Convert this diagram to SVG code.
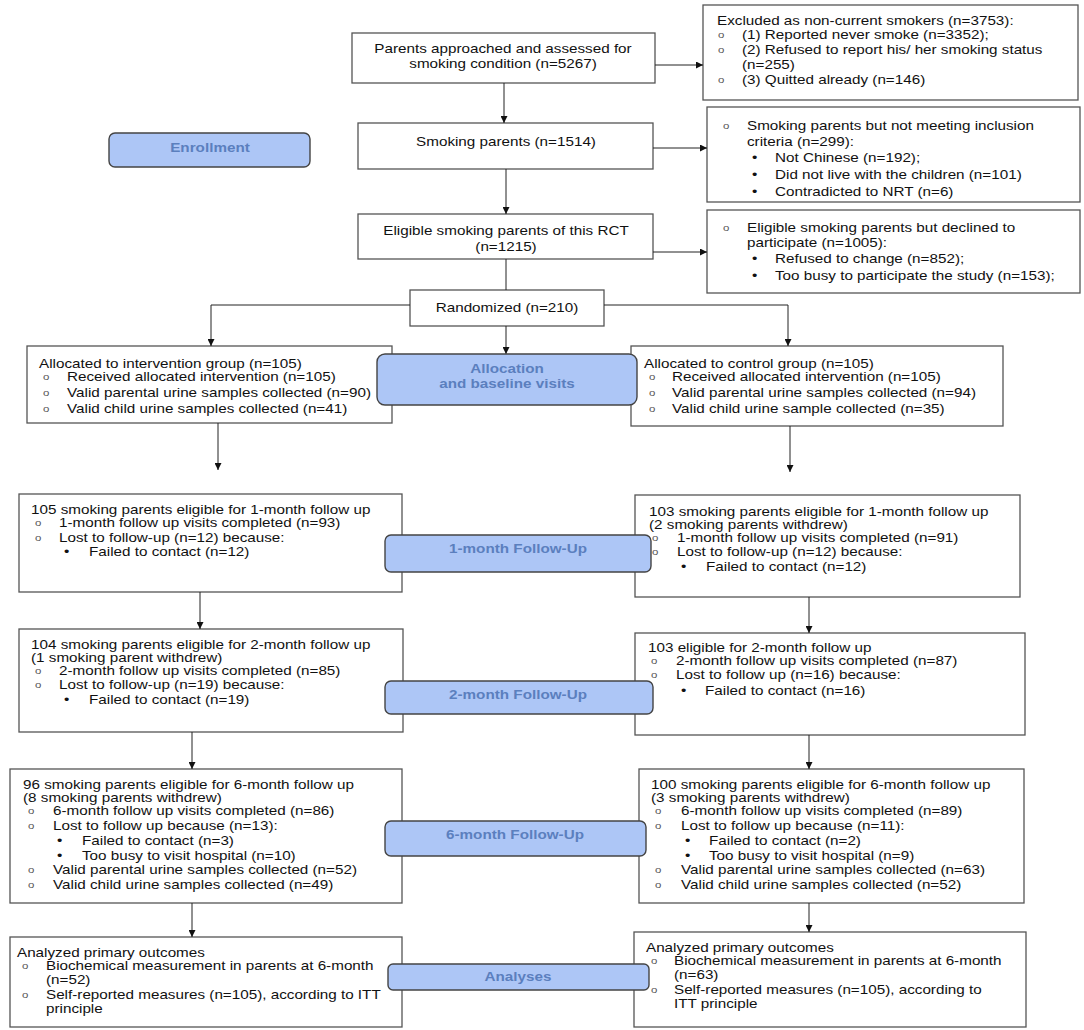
<svg xmlns="http://www.w3.org/2000/svg" width="1084" height="1030" viewBox="0 0 1084 1030">
<defs>
<style>
.box{fill:#fff;stroke:#555;stroke-width:1.3}
.lbl{fill:#adc6f6;stroke:#444;stroke-width:1.4}
.t{font-family:"Liberation Sans",Arial,sans-serif;font-size:12px;fill:#111}
.c{text-anchor:middle}
.o{font-family:"Liberation Sans",Arial,sans-serif;font-size:9px;fill:#555}
.d{font-family:"Liberation Sans",Arial,sans-serif;font-size:12px;fill:#111}
.lt{font-family:"Liberation Sans",Arial,sans-serif;font-size:12.5px;font-weight:bold;fill:#5b7fbe;text-anchor:middle}
.ln{fill:none;stroke:#222;stroke-width:1}
</style>
<marker id="ah" viewBox="0 0 10 10" refX="10" refY="5" markerWidth="7" markerHeight="7" markerUnits="userSpaceOnUse" orient="auto">
<path d="M0,0 L10,5 L0,10 z" fill="#111"/>
</marker>
</defs>
<rect width="1084" height="1030" fill="#fff"/>

<g id="n-approached">
<rect class="box" x="352" y="33" width="303" height="50"/>
<text class="t c" transform="translate(503 52.5) scale(1.27 1)">Parents approached and assessed for</text>
<text class="t c" transform="translate(503 67.5) scale(1.27 1)">smoking condition (n=5267)</text>
</g>

<g id="n-excluded">
<rect class="box" x="703" y="5" width="375" height="95"/>
<text class="t" transform="translate(717 24.5) scale(1.27 1)">Excluded as non-current smokers (n=3753):</text>
<text class="o" transform="translate(718 38) scale(1.27 1)">o</text>
<text class="t" transform="translate(742 39) scale(1.27 1)">(1) Reported never smoke (n=3352);</text>
<text class="o" transform="translate(718 53) scale(1.27 1)">o</text>
<text class="t" transform="translate(742 54) scale(1.27 1)">(2) Refused to report his/ her smoking status</text>
<text class="t" transform="translate(742 69) scale(1.27 1)">(n=255)</text>
<text class="o" transform="translate(718 83) scale(1.27 1)">o</text>
<text class="t" transform="translate(742 84) scale(1.27 1)">(3) Quitted already (n=146)</text>
</g>

<g id="n-smoking">
<rect class="box" x="358" y="123" width="295" height="46"/>
<text class="t c" transform="translate(506 145.5) scale(1.27 1)">Smoking parents (n=1514)</text>
</g>

<g id="n-notmeeting">
<rect class="box" x="707" y="107" width="373" height="95"/>
<text class="o" transform="translate(723 128.5) scale(1.27 1)">o</text>
<text class="t" transform="translate(747 129.5) scale(1.27 1)">Smoking parents but not meeting inclusion</text>
<text class="t" transform="translate(747 145.5) scale(1.27 1)">criteria (n=299):</text>
<text class="d" transform="translate(752 161.5) scale(1.27 1)">•</text>
<text class="t" transform="translate(775 161.5) scale(1.27 1)">Not Chinese (n=192);</text>
<text class="d" transform="translate(752 178.5) scale(1.27 1)">•</text>
<text class="t" transform="translate(775 178.5) scale(1.27 1)">Did not live with the children (n=101)</text>
<text class="d" transform="translate(752 195.5) scale(1.27 1)">•</text>
<text class="t" transform="translate(775 195.5) scale(1.27 1)">Contradicted to NRT (n=6)</text>
</g>

<g id="n-eligible">
<rect class="box" x="358" y="214" width="295" height="45"/>
<text class="t c" transform="translate(506 234.5) scale(1.27 1)">Eligible smoking parents of this RCT</text>
<text class="t c" transform="translate(506 250.5) scale(1.27 1)">(n=1215)</text>
</g>

<g id="n-declined">
<rect class="box" x="707" y="210" width="373" height="83"/>
<text class="o" transform="translate(723 230.5) scale(1.27 1)">o</text>
<text class="t" transform="translate(747 231.5) scale(1.27 1)">Eligible smoking parents but declined to</text>
<text class="t" transform="translate(747 246.5) scale(1.27 1)">participate (n=1005):</text>
<text class="d" transform="translate(752 262.5) scale(1.27 1)">•</text>
<text class="t" transform="translate(775 262.5) scale(1.27 1)">Refused to change (n=852);</text>
<text class="d" transform="translate(752 279.5) scale(1.27 1)">•</text>
<text class="t" transform="translate(775 279.5) scale(1.27 1)">Too busy to participate the study (n=153);</text>
</g>

<g id="n-randomized">
<rect class="box" x="410" y="290" width="194" height="36"/>
<text class="t c" transform="translate(507 311.5) scale(1.27 1)">Randomized (n=210)</text>
</g>

<g id="n-alloc-int">
<rect class="box" x="27" y="346" width="365" height="77"/>
<text class="t" transform="translate(39 367.5) scale(1.27 1)">Allocated to intervention group (n=105)</text>
<text class="o" transform="translate(43 379.5) scale(1.27 1)">o</text>
<text class="t" transform="translate(67 380.5) scale(1.27 1)">Received allocated intervention (n=105)</text>
<text class="o" transform="translate(43 395.5) scale(1.27 1)">o</text>
<text class="t" transform="translate(67 396.5) scale(1.27 1)">Valid parental urine samples collected (n=90)</text>
<text class="o" transform="translate(43 411.5) scale(1.27 1)">o</text>
<text class="t" transform="translate(67 412.5) scale(1.27 1)">Valid child urine samples collected (n=41)</text>
</g>

<g id="n-alloc-ctl">
<rect class="box" x="631" y="346" width="372" height="80"/>
<text class="t" transform="translate(644 367.5) scale(1.27 1)">Allocated to control group (n=105)</text>
<text class="o" transform="translate(649 379.5) scale(1.27 1)">o</text>
<text class="t" transform="translate(672 380.5) scale(1.27 1)">Received allocated intervention (n=105)</text>
<text class="o" transform="translate(649 395.5) scale(1.27 1)">o</text>
<text class="t" transform="translate(672 396.5) scale(1.27 1)">Valid parental urine samples collected (n=94)</text>
<text class="o" transform="translate(649 411.5) scale(1.27 1)">o</text>
<text class="t" transform="translate(672 412.5) scale(1.27 1)">Valid child urine sample collected (n=35)</text>
</g>

<g id="n-int-1m">
<rect class="box" x="19" y="494" width="383" height="98"/>
<text class="t" transform="translate(31 513.5) scale(1.27 1)">105 smoking parents eligible for 1-month follow up</text>
<text class="o" transform="translate(35 525.5) scale(1.27 1)">o</text>
<text class="t" transform="translate(59 526.5) scale(1.27 1)">1-month follow up visits completed (n=93)</text>
<text class="o" transform="translate(35 540.5) scale(1.27 1)">o</text>
<text class="t" transform="translate(59 541.5) scale(1.27 1)">Lost to follow-up (n=12) because:</text>
<text class="d" transform="translate(64 555.5) scale(1.27 1)">•</text>
<text class="t" transform="translate(89 555.5) scale(1.27 1)">Failed to contact (n=12)</text>
</g>

<g id="n-ctl-1m">
<rect class="box" x="635" y="495" width="385" height="102"/>
<text class="t" transform="translate(649 515.5) scale(1.27 1)">103 smoking parents eligible for 1-month follow up</text>
<text class="t" transform="translate(649 528.5) scale(1.27 1)">(2 smoking parents withdrew)</text>
<text class="o" transform="translate(652 540.5) scale(1.27 1)">o</text>
<text class="t" transform="translate(677 541.5) scale(1.27 1)">1-month follow up visits completed (n=91)</text>
<text class="o" transform="translate(652 554.5) scale(1.27 1)">o</text>
<text class="t" transform="translate(677 555.5) scale(1.27 1)">Lost to follow-up (n=12) because:</text>
<text class="d" transform="translate(681 570.5) scale(1.27 1)">•</text>
<text class="t" transform="translate(706 570.5) scale(1.27 1)">Failed to contact (n=12)</text>
</g>

<g id="n-int-2m">
<rect class="box" x="19" y="629" width="384" height="103"/>
<text class="t" transform="translate(31 648.5) scale(1.27 1)">104 smoking parents eligible for 2-month follow up</text>
<text class="t" transform="translate(31 661.5) scale(1.27 1)">(1 smoking parent withdrew)</text>
<text class="o" transform="translate(35 673.5) scale(1.27 1)">o</text>
<text class="t" transform="translate(59 674.5) scale(1.27 1)">2-month follow up visits completed (n=85)</text>
<text class="o" transform="translate(35 687.5) scale(1.27 1)">o</text>
<text class="t" transform="translate(59 688.5) scale(1.27 1)">Lost to follow-up (n=19) because:</text>
<text class="d" transform="translate(64 703.5) scale(1.27 1)">•</text>
<text class="t" transform="translate(89 703.5) scale(1.27 1)">Failed to contact (n=19)</text>
</g>

<g id="n-ctl-2m">
<rect class="box" x="635" y="633" width="390" height="102"/>
<text class="t" transform="translate(648 651.5) scale(1.27 1)">103 eligible for 2-month follow up</text>
<text class="o" transform="translate(651 663.5) scale(1.27 1)">o</text>
<text class="t" transform="translate(676 664.5) scale(1.27 1)">2-month follow up visits completed (n=87)</text>
<text class="o" transform="translate(651 677.5) scale(1.27 1)">o</text>
<text class="t" transform="translate(676 678.5) scale(1.27 1)">Lost to follow up (n=16) because:</text>
<text class="d" transform="translate(681 694.5) scale(1.27 1)">•</text>
<text class="t" transform="translate(705 694.5) scale(1.27 1)">Failed to contact (n=16)</text>
</g>

<g id="n-int-6m">
<rect class="box" x="10" y="769" width="392" height="134"/>
<text class="t" transform="translate(23 789) scale(1.27 1)">96 smoking parents eligible for 6-month follow up</text>
<text class="t" transform="translate(23 801.5) scale(1.27 1)">(8 smoking parents withdrew)</text>
<text class="o" transform="translate(28 813.5) scale(1.27 1)">o</text>
<text class="t" transform="translate(53 814.5) scale(1.27 1)">6-month follow up visits completed (n=86)</text>
<text class="o" transform="translate(28 828.5) scale(1.27 1)">o</text>
<text class="t" transform="translate(53 829.5) scale(1.27 1)">Lost to follow up because (n=13):</text>
<text class="d" transform="translate(57 844.5) scale(1.27 1)">•</text>
<text class="t" transform="translate(82 844.5) scale(1.27 1)">Failed to contact (n=3)</text>
<text class="d" transform="translate(57 859.5) scale(1.27 1)">•</text>
<text class="t" transform="translate(82 859.5) scale(1.27 1)">Too busy to visit hospital (n=10)</text>
<text class="o" transform="translate(28 872.5) scale(1.27 1)">o</text>
<text class="t" transform="translate(53 873.5) scale(1.27 1)">Valid parental urine samples collected (n=52)</text>
<text class="o" transform="translate(28 887.5) scale(1.27 1)">o</text>
<text class="t" transform="translate(53 888.5) scale(1.27 1)">Valid child urine samples collected (n=49)</text>
</g>

<g id="n-ctl-6m">
<rect class="box" x="639" y="769" width="385" height="134"/>
<text class="t" transform="translate(651 789) scale(1.27 1)">100 smoking parents eligible for 6-month follow up</text>
<text class="t" transform="translate(651 801.5) scale(1.27 1)">(3 smoking parents withdrew)</text>
<text class="o" transform="translate(655 813.5) scale(1.27 1)">o</text>
<text class="t" transform="translate(681 814.5) scale(1.27 1)">6-month follow up visits completed (n=89)</text>
<text class="o" transform="translate(655 828.5) scale(1.27 1)">o</text>
<text class="t" transform="translate(681 829.5) scale(1.27 1)">Lost to follow up because (n=11):</text>
<text class="d" transform="translate(685 844.5) scale(1.27 1)">•</text>
<text class="t" transform="translate(709 844.5) scale(1.27 1)">Failed to contact (n=2)</text>
<text class="d" transform="translate(685 859.5) scale(1.27 1)">•</text>
<text class="t" transform="translate(709 859.5) scale(1.27 1)">Too busy to visit hospital (n=9)</text>
<text class="o" transform="translate(655 872.5) scale(1.27 1)">o</text>
<text class="t" transform="translate(681 873.5) scale(1.27 1)">Valid parental urine samples collected (n=63)</text>
<text class="o" transform="translate(655 887.5) scale(1.27 1)">o</text>
<text class="t" transform="translate(681 888.5) scale(1.27 1)">Valid child urine samples collected (n=52)</text>
</g>

<g id="n-int-an">
<rect class="box" x="10" y="937" width="392" height="90"/>
<text class="t" transform="translate(17 956.5) scale(1.27 1)">Analyzed primary outcomes</text>
<text class="o" transform="translate(22 968.5) scale(1.27 1)">o</text>
<text class="t" transform="translate(46 969.5) scale(1.27 1)">Biochemical measurement in parents at 6-month</text>
<text class="t" transform="translate(46 983.5) scale(1.27 1)">(n=52)</text>
<text class="o" transform="translate(22 997.5) scale(1.27 1)">o</text>
<text class="t" transform="translate(46 998.5) scale(1.27 1)">Self-reported measures (n=105), according to ITT</text>
<text class="t" transform="translate(46 1012.5) scale(1.27 1)">principle</text>
</g>

<g id="n-ctl-an">
<rect class="box" x="634" y="932" width="392" height="95"/>
<text class="t" transform="translate(646 951.5) scale(1.27 1)">Analyzed primary outcomes</text>
<text class="o" transform="translate(651 963.5) scale(1.27 1)">o</text>
<text class="t" transform="translate(674 964.5) scale(1.27 1)">Biochemical measurement in parents at 6-month</text>
<text class="t" transform="translate(674 978.5) scale(1.27 1)">(n=63)</text>
<text class="o" transform="translate(651 992.5) scale(1.27 1)">o</text>
<text class="t" transform="translate(674 993.5) scale(1.27 1)">Self-reported measures (n=105), according to</text>
<text class="t" transform="translate(674 1007.5) scale(1.27 1)">ITT principle</text>
</g>

<g id="connectors">
<path class="ln" d="M655,65 H703" marker-end="url(#ah)"/>
<path class="ln" d="M504,83 V123" marker-end="url(#ah)"/>
<path class="ln" d="M653,148 H707" marker-end="url(#ah)"/>
<path class="ln" d="M506,169 V214" marker-end="url(#ah)"/>
<path class="ln" d="M653,252 H707" marker-end="url(#ah)"/>
<path class="ln" d="M506,259 V290"/>
<path class="ln" d="M410,305 H211 V346" marker-end="url(#ah)"/>
<path class="ln" d="M604,305 H788 V346" marker-end="url(#ah)"/>
<path class="ln" d="M506,326 V354" marker-end="url(#ah)"/>
<path class="ln" d="M218,423 V470" marker-end="url(#ah)"/>
<path class="ln" d="M790,426 V472" marker-end="url(#ah)"/>
<path class="ln" d="M200,592 V629" marker-end="url(#ah)"/>
<path class="ln" d="M809,597 V633" marker-end="url(#ah)"/>
<path class="ln" d="M192,732 V769" marker-end="url(#ah)"/>
<path class="ln" d="M809,735 V769" marker-end="url(#ah)"/>
<path class="ln" d="M192,903 V937" marker-end="url(#ah)"/>
<path class="ln" d="M809,903 V932" marker-end="url(#ah)"/>
</g>

<g id="lbl-enrollment">
<rect class="lbl" x="109" y="133" width="201" height="34" rx="6"/>
<text class="lt" transform="translate(210 151.5) scale(1.22 1)">Enrollment</text>
</g>

<g id="lbl-allocation">
<rect class="lbl" x="377" y="354" width="260" height="51" rx="8"/>
<text class="lt" transform="translate(507 372.5) scale(1.22 1)">Allocation</text>
<text class="lt" transform="translate(507 387.5) scale(1.22 1)">and baseline visits</text>
</g>

<g id="lbl-1m">
<rect class="lbl" x="385" y="535" width="266" height="37" rx="6"/>
<text class="lt" transform="translate(518 552.5) scale(1.22 1)">1-month Follow-Up</text>
</g>

<g id="lbl-2m">
<rect class="lbl" x="385" y="681" width="268" height="33" rx="6"/>
<text class="lt" transform="translate(518 698.5) scale(1.22 1)">2-month Follow-Up</text>
</g>

<g id="lbl-6m">
<rect class="lbl" x="385" y="821" width="261" height="35" rx="6"/>
<text class="lt" transform="translate(515 838.5) scale(1.22 1)">6-month Follow-Up</text>
</g>

<g id="lbl-analyses">
<rect class="lbl" x="388" y="964" width="261" height="26" rx="5"/>
<text class="lt" transform="translate(518 980.5) scale(1.22 1)">Analyses</text>
</g>
</svg>
